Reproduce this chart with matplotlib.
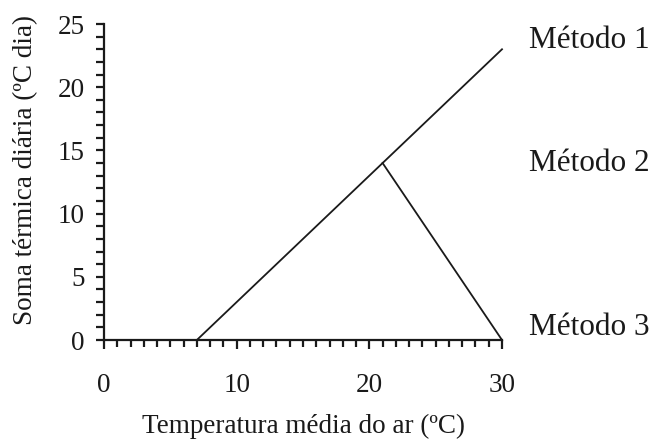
import matplotlib
matplotlib.use("Agg")
import matplotlib.pyplot as plt
from matplotlib.ticker import MultipleLocator

plt.rcParams['font.family'] = ['Liberation Serif', 'DejaVu Serif']

# Data
metodo1_x = [0, 7, 30]
metodo1_y = [0, 0, 23]
metodo2_x = [21, 30]
metodo2_y = [14, 0]
labels = ["Método 1", "Método 2", "Método 3"]
label_y = [23.7, 14.0, 1.0]

fig = plt.figure(figsize=(6.63, 4.43), dpi=100)
ax = fig.add_axes([104/663, 1 - 340/443, (502-104)/663, (340-24)/443])

ax.plot(metodo1_x, metodo1_y, color='#1a1a1a', lw=1.3, clip_on=False)
ax.plot(metodo2_x, metodo2_y, color='#1a1a1a', lw=1.3, clip_on=False)

ax.set_xlim(0, 30)
ax.set_ylim(0, 25)
ax.xaxis.set_major_locator(MultipleLocator(10))
ax.xaxis.set_minor_locator(MultipleLocator(1))
ax.yaxis.set_major_locator(MultipleLocator(5))
ax.yaxis.set_minor_locator(MultipleLocator(1))

for s in ['top', 'right']:
    ax.spines[s].set_visible(False)
for s in ['left', 'bottom']:
    ax.spines[s].set_linewidth(1.6)
    ax.spines[s].set_color('#1a1a1a')

fs = 19.5
ax.tick_params(axis='x', which='major', direction='out', length=6.5, width=1.6,
               pad=17, labelsize=fs, colors='#1a1a1a')
ax.tick_params(axis='x', which='minor', direction='out', length=5, width=1.6,
               colors='#1a1a1a')
ax.tick_params(axis='y', which='both', direction='out', length=6, width=1.6,
               pad=8, labelsize=fs, colors='#1a1a1a')

ax.set_xlabel("Temperatura média do ar (ºC)", fontsize=fs, labelpad=12, color='#1a1a1a')
ax.set_ylabel("Soma térmica diária (ºC dia)", fontsize=fs, color='#1a1a1a')
ax.yaxis.set_label_coords(-0.165, 0.538)

for lab, yv in zip(labels, label_y):
    ax.text(32.0, yv, lab, fontsize=22.5, va='center', ha='left', color='#1a1a1a',
            clip_on=False)

fig.savefig("out.png", dpi=100, facecolor='white')
